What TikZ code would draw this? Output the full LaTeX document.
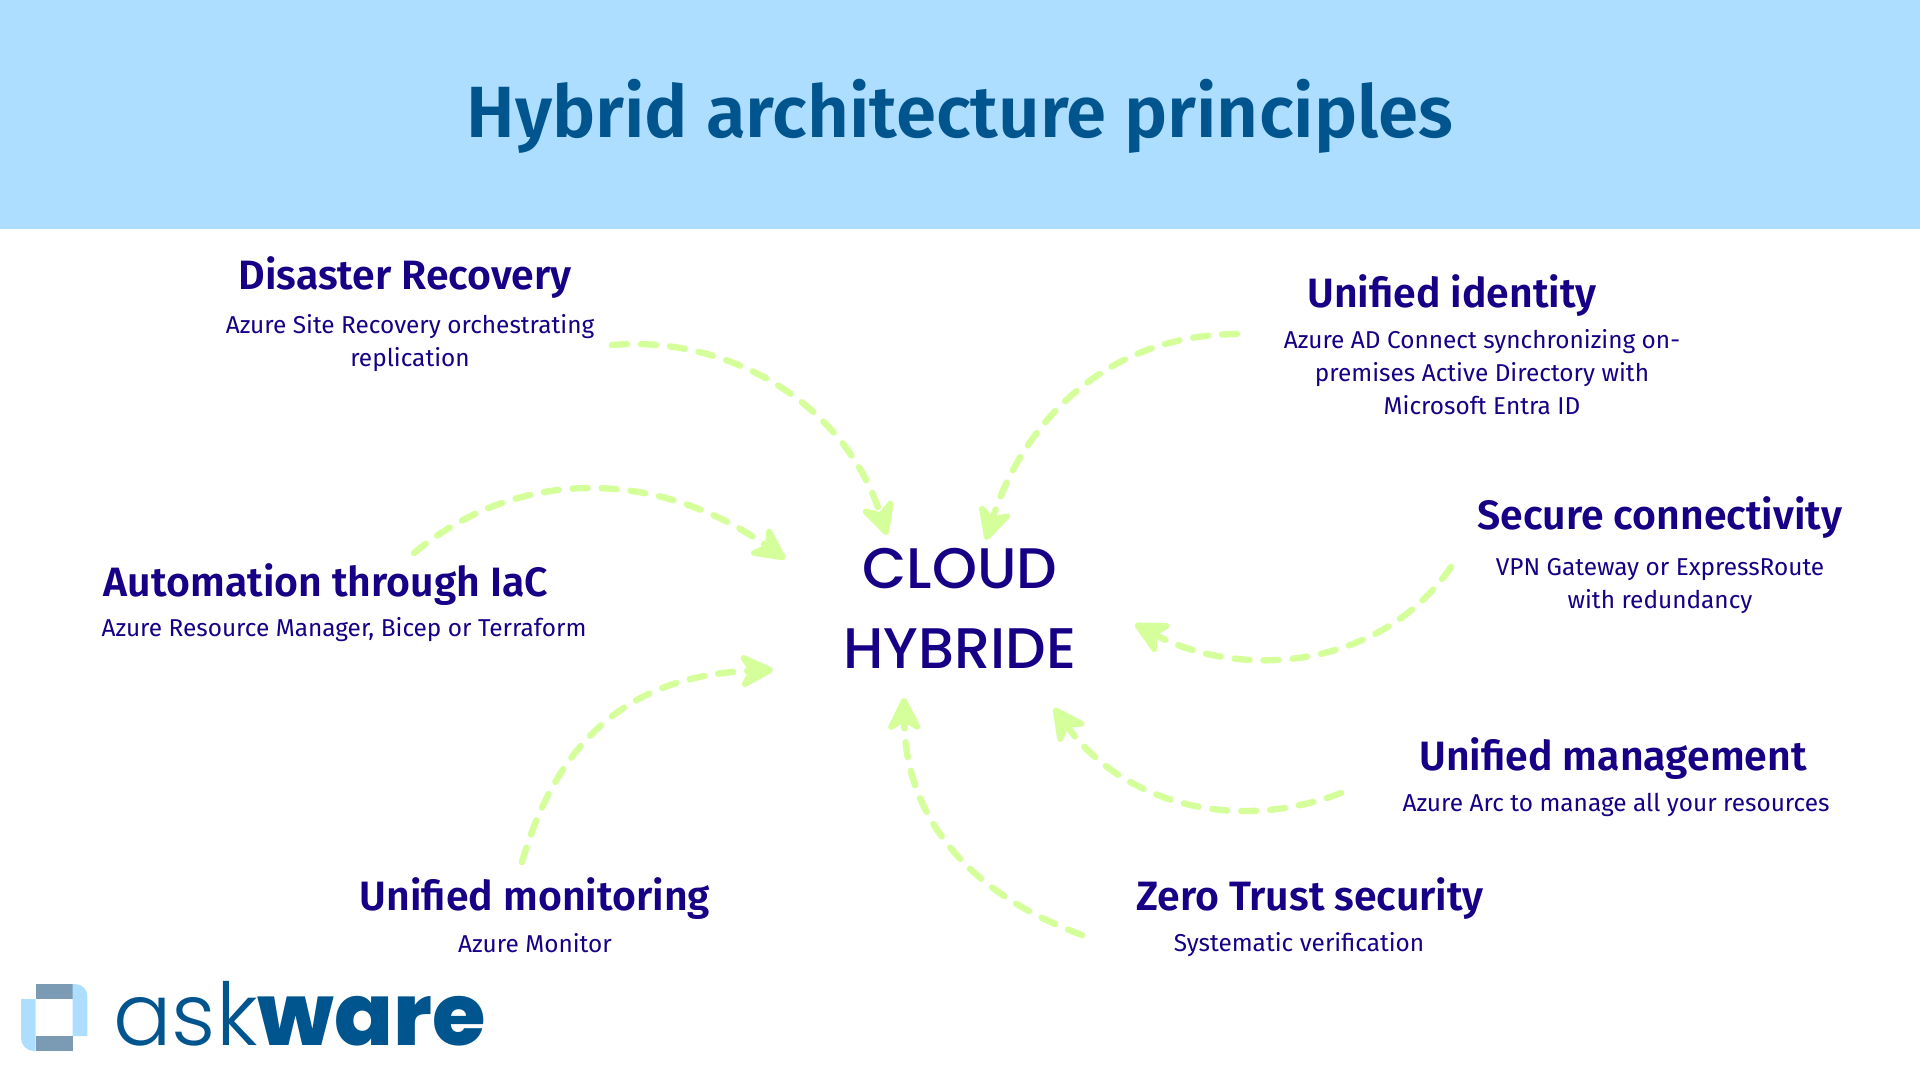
\documentclass[tikz,border=0pt]{standalone}
\usepackage{fontspec}
\usepackage{graphicx}
\usetikzlibrary{arrows.meta}
\setmainfont{Fira Sans}
\newfontfamily\headfont{Fira Sans SemiBold}
\newfontfamily\popmed{Poppins Medium}
\newfontfamily\poplight{Poppins Light}
\newfontfamily\popxbold{Poppins ExtraBold}
\definecolor{banner}{HTML}{ADDEFF}
\definecolor{titleblue}{HTML}{00558F}
\definecolor{navy}{HTML}{170085}
\definecolor{lime}{HTML}{D5FF9B}
\definecolor{logodark}{HTML}{7B9BB4}
\tikzset{
  x=0.5pt,y=-0.5pt,
  heading/.style={text=navy,inner sep=0pt,font=\headfont\fontsize{20.5}{24}\selectfont},
  body/.style={text=navy,inner sep=0pt,align=center,font=\fontsize{12.2}{16.5}\selectfont},
  centre/.style={text=navy,inner sep=0pt,font=\popmed\fontsize{28.6}{34}\selectfont},
  conn/.style={draw=lime,line width=3.2pt,line cap=round,dash pattern=on 7.5pt off 7pt,
    -{Stealth[length=20pt,width=20pt,inset=6pt,round,line width=3pt]}},
}
\begin{document}
\begin{tikzpicture}
\useasboundingbox (0,0) rectangle (1920,1080);
\fill[white] (0,0) rectangle (1920,1080);
\fill[banner] (0,0) rectangle (1920,229);
\node[text=titleblue,inner sep=0pt,font=\headfont\fontsize{36.3}{42}\selectfont] (title) at (960,116) {Hybrid architecture principles};

\node[centre] (cloud) at (960,569) {CLOUD};
\node[centre] (hybride) at (960,649) {HYBRIDE};

\node[heading] (h1) at (405,278) {Disaster Recovery};
\node[body] (b1) at (410,343.5) {Azure Site Recovery orchestrating\\replication};
\node[heading] (h2) at (1452,296) {Unified identity};
\node[body] (b2) at (1482,372.5) {Azure AD Connect synchronizing on-\\premises Active Directory with\\Microsoft Entra ID};
\node[heading] (h3) at (1660,518) {Secure connectivity};
\node[body] (b3) at (1660,586) {VPN Gateway or ExpressRoute\\with redundancy};
\node[heading] (h4) at (1613,759) {Unified management};
\node[body] (b4) at (1616,805) {Azure Arc to manage all your resources};
\node[heading] (h5) at (1310,899) {Zero Trust security};
\node[body] (b5) at (1299,945) {Systematic verification};
\node[heading] (h6) at (535,899) {Unified monitoring};
\node[body] (b6) at (535,943) {Azure Monitor};
\node[heading] (h7) at (326,585) {Automation through IaC};
\node[body] (b7) at (344,630) {Azure Resource Manager, Bicep or Terraform};

\coordinate (s1) at (612,345); \coordinate (e1) at (887,535);
\coordinate (s2) at (1237,334); \coordinate (e2) at (986,540);
\coordinate (s3) at (414,553); \coordinate (e3) at (785,559);
\coordinate (s4) at (522,862); \coordinate (e4) at (773,670);
\coordinate (s5) at (1451,567); \coordinate (e5) at (1135,624);
\coordinate (s6) at (1341,793); \coordinate (e6) at (1054,708);
\coordinate (s7) at (1082,935); \coordinate (e7) at (904,698);
\draw[conn] (s1) .. controls (730,335) and (845,405) .. (e1);
\draw[conn] (s2) .. controls (1100,335) and (1020,430) .. (e2);
\draw[conn] (s3) .. controls (520,465) and (660,470) .. (e3);
\draw[conn] (s4) .. controls (560,730) and (640,675) .. (e4);
\draw[conn] (s5) .. controls (1380,670) and (1240,680) .. (e5);
\draw[conn] (s6) .. controls (1230,835) and (1120,800) .. (e6);
\draw[conn] (s7) .. controls (960,890) and (905,810) .. (e7);

% logo
\fill[logodark] (35.7,984) rectangle (72.7,999);
\fill[logodark] (35.7,1036) rectangle (72.7,1050.7);
\fill[banner] (72.7,984) -- (72.7,1036) -- (87.3,1036) -- (87.3,996) arc[start angle=0,end angle=90,x radius=12,y radius=-12] -- cycle;
\fill[banner] (35.7,1050.7) -- (35.7,999) -- (21,999) -- (21,1038) arc[start angle=180,end angle=270,x radius=13,y radius=-13] -- cycle;
\node[inner sep=0pt,text=titleblue,anchor=west] (logo) at (113,1014) {\resizebox{186pt}{!}{\fontsize{48}{48}\selectfont{\poplight ask}{\popxbold ware}}};
\end{tikzpicture}
\end{document}
